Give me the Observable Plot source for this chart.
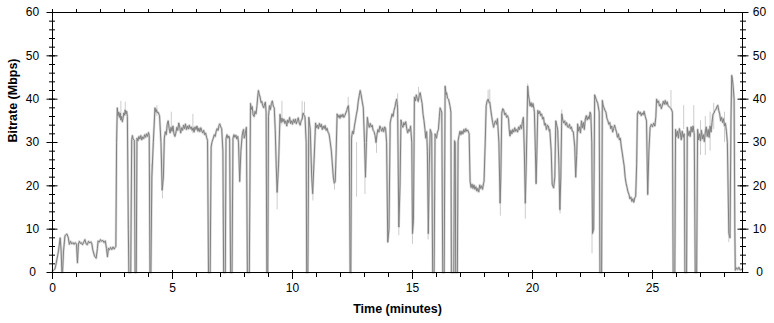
<!DOCTYPE html>
<html>
<head>
<meta charset="utf-8">
<script src="https://cdn.jsdelivr.net/npm/d3@7"></script>
<script src="https://cdn.jsdelivr.net/npm/@observablehq/plot@0.6"></script>
<style>
  html, body { margin: 0; padding: 0; background: #ffffff; }
  #chart svg { display: block; }
</style>
</head>
<body>
<div id="chart"></div>
<script>
// Smoothed bitrate trace: [time (minutes), bitrate (Mbps)]
const smoothed = [
  [0, 0.3], [0.1, 0.8], [0.15, 2], [0.25, 5], [0.32, 8], [0.36, 5], [0.39, 0], [0.42, 0.2],
  [0.46, 5], [0.52, 8.5], [0.6, 8.9], [0.66, 8], [0.7, 6.5], [0.75, 7.2], [0.8, 6.6], [0.85, 6.9],
  [0.9, 6.5], [0.95, 6.9], [1.0, 6.5], [1.04, 2.2], [1.08, 6.6], [1.12, 7.2], [1.16, 6.7],
  [1.2, 6.9], [1.25, 6.4], [1.3, 7], [1.35, 7.6], [1.4, 6.6], [1.45, 6.4], [1.5, 7.2],
  [1.55, 6.8], [1.6, 7.1], [1.64, 6.6], [1.68, 5.2], [1.75, 3.8], [1.82, 3.3], [1.87, 5.5],
  [1.9, 7.3], [1.95, 7], [2.0, 7.6], [2.05, 7.2], [2.1, 7.4], [2.15, 6.9], [2.2, 7.3],
  [2.25, 5.5], [2.29, 3.6], [2.33, 5.6], [2.37, 5.2], [2.42, 5.8], [2.47, 5.3], [2.52, 5.9],
  [2.57, 5.4], [2.61, 5.8], [2.64, 6],
  [2.67, 30], [2.7, 38], [2.73, 36.2], [2.76, 37], [2.79, 35.8], [2.82, 36.8], [2.85, 35.2],
  [2.88, 36], [2.91, 34.8], [2.94, 35.6], [2.97, 36.8], [3.0, 36.3], [3.03, 37.5], [3.06, 36.6],
  [3.09, 37.2], [3.12, 36], [3.16, 10], [3.18, 0], [3.26, 0], [3.3, 30.6], [3.33, 31.6],
  [3.36, 30.8], [3.41, 30.5], [3.44, 0], [3.49, 0],
  [3.52, 31], [3.56, 30.4], [3.6, 31.4], [3.64, 30.8], [3.68, 31.6], [3.72, 30.6], [3.76, 31.3],
  [3.8, 30.9], [3.84, 31.8], [3.88, 31.2], [3.92, 32], [3.96, 31.4], [4.0, 32.3], [4.03, 31.6],
  [4.06, 0], [4.1, 0], [4.14, 22], [4.2, 30], [4.27, 38], [4.3, 37], [4.33, 37.6], [4.37, 36.8],
  [4.4, 37], [4.46, 36.2], [4.52, 30], [4.57, 19], [4.62, 22],
  [4.66, 31], [4.7, 32.5], [4.74, 31.8], [4.78, 34.2], [4.82, 35], [4.86, 33.3], [4.9, 32.2],
  [4.94, 33.5], [4.98, 32.6], [5.02, 33.8], [5.06, 32], [5.1, 31.4], [5.14, 32.2], [5.18, 33.5],
  [5.22, 32.8], [5.26, 34.5], [5.3, 33.6], [5.34, 32.2], [5.38, 33.4], [5.42, 32.8], [5.46, 34],
  [5.5, 33.2], [5.54, 34.3], [5.58, 33], [5.62, 33.8], [5.66, 33.1], [5.7, 34], [5.74, 33.2],
  [5.78, 33.6], [5.82, 32.8], [5.86, 33.4], [5.9, 32.4], [5.94, 33.6], [5.98, 33], [6.02, 33.8],
  [6.06, 32.6], [6.1, 33.3], [6.14, 32.5], [6.18, 33.4], [6.22, 32.7], [6.26, 32.2], [6.3, 32.8],
  [6.34, 31.8], [6.38, 32.2], [6.42, 31.2], [6.46, 30.5],
  [6.5, 0], [6.57, 0], [6.61, 29], [6.65, 30.2], [6.7, 31], [6.74, 31.8], [6.78, 31.4],
  [6.82, 32.6], [6.86, 33.2], [6.9, 32.8], [6.94, 34], [6.97, 34.3], [7.01, 33.6], [7.05, 33.2],
  [7.1, 28], [7.13, 0], [7.2, 0], [7.23, 31], [7.27, 31.8], [7.31, 31], [7.35, 31.5], [7.38, 30.8],
  [7.42, 0], [7.48, 0],
  [7.52, 31], [7.56, 31.8], [7.6, 31.2], [7.64, 31.7], [7.68, 30.8], [7.72, 31.4], [7.75, 30],
  [7.8, 21], [7.85, 28], [7.9, 31.5], [7.93, 32.5], [7.96, 33], [7.99, 31], [8.02, 31.5],
  [8.05, 32.8], [8.08, 33.5], [8.12, 0], [8.2, 0],
  [8.25, 39], [8.28, 37.6], [8.32, 38.3], [8.36, 36.4], [8.4, 36], [8.44, 37.2], [8.48, 36.6],
  [8.52, 38.5], [8.55, 40.5], [8.58, 42], [8.62, 41], [8.65, 40.5], [8.69, 39.2], [8.72, 39.5],
  [8.76, 38.5], [8.8, 38], [8.84, 39], [8.87, 39.3], [8.9, 37], [8.93, 0], [8.97, 0],
  [9.0, 36], [9.04, 38.5], [9.08, 37.6], [9.12, 39], [9.16, 39.6], [9.2, 38.4], [9.24, 38],
  [9.28, 33], [9.32, 25], [9.36, 18.5], [9.42, 25],
  [9.48, 36.5], [9.52, 34.6], [9.56, 35.6], [9.6, 34.8], [9.64, 35.4], [9.68, 34.4], [9.72, 35],
  [9.76, 33.8], [9.8, 35.2], [9.84, 34.6], [9.88, 35.8], [9.92, 34.4], [9.96, 35], [10.0, 34.2],
  [10.04, 35.3], [10.08, 34.6], [10.12, 35.4], [10.16, 34.3], [10.2, 35], [10.24, 35.7],
  [10.28, 34.5], [10.32, 34], [10.36, 35], [10.4, 35.4], [10.44, 36.8], [10.48, 36.2],
  [10.52, 36], [10.57, 30], [10.59, 0], [10.64, 0], [10.68, 35.8], [10.74, 33], [10.8, 22],
  [10.84, 18.2], [10.9, 26],
  [10.96, 34.5], [11.0, 33.4], [11.04, 34], [11.08, 33.2], [11.12, 34.4], [11.16, 33.6],
  [11.2, 34.2], [11.24, 33], [11.28, 33.8], [11.32, 33.2], [11.36, 33.9], [11.4, 32.8],
  [11.44, 33.3], [11.48, 32.4], [11.52, 32], [11.55, 31], [11.62, 28], [11.7, 22], [11.74, 20.6],
  [11.78, 21], [11.82, 28],
  [11.86, 36.6], [11.9, 35.8], [11.94, 36.3], [11.98, 35.6], [12.02, 36.4], [12.06, 35.9],
  [12.1, 36.5], [12.14, 35.8], [12.18, 36.2], [12.22, 36.8], [12.26, 37.4], [12.3, 38.2],
  [12.33, 38.5], [12.36, 36], [12.4, 0], [12.43, 0],
  [12.46, 31], [12.5, 32.6], [12.54, 32], [12.58, 33.8], [12.62, 35], [12.66, 36.4], [12.7, 37.5],
  [12.74, 39.5], [12.78, 40.8], [12.82, 42], [12.86, 41], [12.9, 39.6], [12.95, 38], [13.0, 30],
  [13.04, 22], [13.08, 30],
  [13.12, 35.8], [13.16, 34.2], [13.2, 33.5], [13.24, 34.4], [13.28, 33.6], [13.32, 34],
  [13.36, 32.8], [13.4, 32.5], [13.44, 31.6], [13.48, 30], [13.52, 31.8], [13.56, 33],
  [13.6, 32.4], [13.64, 33.8], [13.68, 33.2], [13.72, 32.6], [13.76, 33.4], [13.8, 32.5],
  [13.84, 33.6], [13.88, 33.2], [13.92, 30], [13.97, 7], [14.02, 10],
  [14.07, 34.5], [14.11, 35.6], [14.15, 36.6], [14.19, 36], [14.23, 37.4], [14.27, 38.2],
  [14.31, 39.4], [14.34, 40], [14.38, 38], [14.43, 10.5], [14.48, 20],
  [14.52, 35.2], [14.56, 34], [14.6, 33.5], [14.64, 34.6], [14.68, 34], [14.72, 34.8],
  [14.76, 33.2], [14.8, 32.2], [14.84, 33], [14.88, 32.6], [14.92, 33.8], [14.97, 30],
  [15.0, 9], [15.04, 12],
  [15.08, 40.5], [15.12, 39.6], [15.16, 41], [15.2, 40], [15.24, 39.5], [15.28, 40.8],
  [15.32, 41.5], [15.36, 40.2], [15.4, 39], [15.44, 36.5], [15.48, 35], [15.52, 33], [15.55, 31],
  [15.59, 32.5], [15.62, 28], [15.66, 9], [15.7, 25], [15.74, 33], [15.8, 32], [15.84, 0],
  [15.9, 0], [15.94, 32], [16.0, 31], [16.04, 32.4], [16.08, 33], [16.12, 36], [16.15, 38],
  [16.22, 37], [16.26, 0], [16.32, 0], [16.36, 43], [16.4, 41], [16.42, 41.5], [16.46, 40.2],
  [16.5, 40], [16.56, 38.5], [16.6, 37], [16.62, 0], [16.72, 0], [16.75, 30.4], [16.78, 30],
  [16.8, 0], [16.87, 0],
  [16.9, 30.4], [16.94, 31.6], [16.98, 32.6], [17.02, 31.8], [17.06, 32.6], [17.1, 32],
  [17.14, 33], [17.18, 32.4], [17.22, 33.2], [17.26, 32.6], [17.3, 32.9], [17.36, 32],
  [17.4, 21], [17.44, 19.6], [17.48, 20.4], [17.52, 19.4], [17.56, 20.2], [17.6, 19.2],
  [17.64, 19.8], [17.68, 18.8], [17.72, 19.4], [17.76, 18.6], [17.8, 20.2], [17.84, 19.4],
  [17.88, 20], [17.92, 19.2], [17.96, 20.6], [17.98, 21], [18.03, 30],
  [18.07, 38.5], [18.11, 39.6], [18.15, 40], [18.19, 39.2], [18.22, 39.3], [18.26, 37.6],
  [18.3, 36], [18.34, 34.6], [18.38, 33.5], [18.42, 34.6], [18.46, 35], [18.5, 34.2],
  [18.54, 35.5], [18.6, 30], [18.65, 16], [18.68, 22],
  [18.72, 36.8], [18.76, 37.8], [18.8, 37.5], [18.84, 36.4], [18.88, 36.8], [18.92, 35.8],
  [18.96, 36.2], [19.0, 35.5], [19.03, 33], [19.06, 31.5], [19.1, 32.8], [19.14, 32],
  [19.18, 33], [19.22, 32.4], [19.26, 33.4], [19.3, 32.6], [19.34, 33], [19.38, 32.4],
  [19.42, 33.6], [19.46, 33], [19.5, 34], [19.54, 33.2], [19.58, 34.8], [19.62, 35.8],
  [19.66, 28], [19.7, 16], [19.74, 25],
  [19.8, 43], [19.83, 41], [19.86, 40], [19.9, 38.4], [19.94, 39.2], [19.98, 38.2], [20.02, 39],
  [20.06, 37.8], [20.08, 37], [20.12, 28], [20.15, 20.5], [20.18, 27],
  [20.22, 37.4], [20.26, 36.6], [20.3, 37.2], [20.34, 36.2], [20.38, 36.6], [20.42, 35.4],
  [20.46, 35.8], [20.5, 34], [20.54, 34.4], [20.58, 33], [20.62, 34], [20.66, 33.8], [20.7, 32.6],
  [20.72, 33], [20.78, 28], [20.82, 20.4], [20.88, 19.5], [20.93, 22], [20.97, 35], [21.01, 34],
  [21.05, 33], [21.1, 25], [21.14, 14.5], [21.18, 22],
  [21.22, 36.6], [21.26, 35.2], [21.3, 34.5], [21.34, 35], [21.38, 34], [21.42, 34.6],
  [21.46, 33.6], [21.5, 33.5], [21.54, 34.2], [21.58, 33.2], [21.62, 33.6], [21.66, 32.6],
  [21.7, 32.5], [21.76, 29], [21.8, 22], [21.84, 27],
  [21.88, 34.3], [21.92, 32.6], [21.96, 33.6], [22.0, 32.2], [22.04, 35], [22.08, 33.4],
  [22.12, 34.6], [22.16, 33], [22.2, 35.4], [22.24, 36.2], [22.28, 35.2], [22.32, 36],
  [22.36, 35.4], [22.4, 37], [22.43, 36.5], [22.47, 30], [22.5, 9], [22.55, 10],
  [22.59, 41], [22.65, 40], [22.72, 39], [22.78, 37], [22.81, 0], [22.88, 0],
  [22.91, 39.7], [22.95, 38.4], [22.98, 38], [23.02, 37.4], [23.06, 37], [23.1, 35.6],
  [23.14, 35], [23.18, 34.2], [23.22, 34.6], [23.26, 33.2], [23.3, 33.8], [23.34, 32.4],
  [23.38, 33.2], [23.42, 34], [23.46, 33.2], [23.5, 32.4], [23.54, 31.2], [23.58, 32],
  [23.62, 30.6], [23.66, 31], [23.7, 29], [23.74, 27.6],
  [23.78, 26], [23.82, 24.6], [23.86, 22], [23.9, 20.6], [23.94, 19.6], [23.98, 18.6],
  [24.02, 18], [24.06, 17], [24.1, 17.4], [24.14, 16.4], [24.18, 17], [24.22, 16.2],
  [24.26, 17.2], [24.3, 17.6], [24.34, 25],
  [24.37, 36.6], [24.41, 37.2], [24.45, 36.6], [24.49, 37], [24.53, 36.2], [24.57, 36.8],
  [24.61, 36.4], [24.65, 37.2], [24.7, 36], [24.75, 35], [24.8, 18], [24.85, 28],
  [24.9, 33.5], [24.95, 34.2], [25.0, 33.6], [25.05, 34.5], [25.1, 33.8], [25.14, 36],
  [25.17, 40], [25.21, 39.2], [25.25, 39.6], [25.29, 38.4], [25.33, 38.8], [25.37, 37.8],
  [25.41, 38.6], [25.45, 39.5], [25.49, 38.8], [25.53, 39.7], [25.57, 38.8], [25.61, 39.4],
  [25.65, 38.5], [25.7, 38.2], [25.75, 38], [25.8, 37.5], [25.83, 37], [25.86, 0], [25.93, 0],
  [25.96, 33], [26.0, 31.4], [26.04, 32.6], [26.08, 31], [26.12, 33.2], [26.16, 32.2],
  [26.2, 30.6], [26.24, 32.6], [26.28, 31.2], [26.32, 32], [26.35, 0], [26.42, 0],
  [26.45, 33.5], [26.49, 31.6], [26.53, 32.6], [26.57, 31.4], [26.61, 33.6], [26.65, 32.4],
  [26.69, 33.8], [26.74, 32], [26.78, 0], [26.84, 0],
  [26.88, 33], [26.92, 30.6], [26.96, 32], [27.0, 30.4], [27.04, 32.8], [27.08, 30.8],
  [27.12, 31.8], [27.16, 30.2], [27.2, 32.4], [27.24, 33.6], [27.28, 31.4], [27.32, 33],
  [27.36, 31.2], [27.4, 33.8], [27.44, 32.4], [27.48, 34.6], [27.52, 36.5], [27.56, 36.8],
  [27.6, 37.4], [27.64, 37.6], [27.68, 38.2], [27.72, 38.6], [27.76, 37.4], [27.8, 36.6],
  [27.84, 35], [27.88, 35.8], [27.92, 34.6], [27.96, 35.5], [28.0, 33.8], [28.04, 34.4],
  [28.08, 32.6], [28.12, 30], [28.18, 9], [28.23, 8],
  [28.27, 35], [28.3, 45.5], [28.33, 44.6], [28.36, 43], [28.4, 40], [28.43, 10], [28.45, 0.5],
  [28.5, 1.1], [28.55, 0.7], [28.6, 1.2], [28.65, 0.6], [28.75, 0.8]
];

// Raw (unsmoothed) excursions visible in light grey: [time, low, high]
const rawSpikes = [
  [2.85, 35, 39.5], [3.03, 36, 39.3], [4.12, 13.5, 25], [4.35, 36, 38.5], [4.58, 17, 22],
  [4.95, 33, 37], [5.85, 32, 36.5], [9.36, 14.5, 19], [9.56, 34, 39.5], [10.4, 35, 39.5],
  [10.5, 36, 39.3], [10.85, 16.5, 19], [11.75, 19, 22], [12.32, 37, 40.4], [12.67, 17.4, 30],
  [13.02, 18, 22], [13.5, 27.5, 31], [14.38, 38, 41.2], [14.43, 8.5, 11], [15.0, 6.5, 10],
  [15.25, 39, 42.7], [15.65, 7.5, 10], [18.15, 40, 42], [18.22, 39, 42.2], [18.66, 13, 17],
  [19.7, 12.3, 16], [19.8, 40, 43.5], [21.15, 13.5, 15], [21.22, 35, 37.5], [22.48, 4.3, 9],
  [25.77, 38, 42], [26.3, 33, 38.5], [26.72, 33, 38.5], [27.0, 27, 35], [27.2, 27, 36],
  [27.4, 28, 37], [27.55, 33, 39], [28.0, 30, 37], [28.18, 6.9, 10]
];

const xMajorTicks = [0, 5, 10, 15, 20, 25];
const xMinorTicks = [0, 1, 2, 3, 4, 5, 6, 7, 8, 9, 10, 11, 12, 13, 14, 15, 16, 17, 18, 19, 20,
  21, 22, 23, 24, 25, 26, 27, 28];
const yMajorTicks = [0, 10, 20, 30, 40, 50, 60];
const yMinorTicks = [0, 2, 4, 6, 8, 10, 12, 14, 16, 18, 20, 22, 24, 26, 28, 30, 32, 34, 36, 38,
  40, 42, 44, 46, 48, 50, 52, 54, 56, 58, 60];

const xTitle = "Time (minutes)";
const yTitle = "Bitrate (Mbps)";

const blank = () => "";

const chart = Plot.plot({
  width: 774,
  height: 323,
  marginLeft: 52,
  marginRight: 32,
  marginTop: 12,
  marginBottom: 51,
  x: {domain: [0, 28.75], axis: null},
  y: {domain: [0, 60], axis: null},
  style: {
    fontFamily: "'Liberation Sans', Arial, sans-serif",
    fontSize: "12px",
    background: "#ffffff",
    color: "#000000"
  },
  marks: [
    Plot.line(smoothed, {x: d => d[0], y: d => d[1], stroke: "#d6d6d6", strokeWidth: 2.4}),
    Plot.ruleX(rawSpikes, {x: d => d[0], y1: d => d[1], y2: d => d[2], stroke: "#cccccc", strokeWidth: 1}),
    Plot.line(smoothed, {x: d => d[0], y: d => d[1], stroke: "#808080", strokeWidth: 1}),
    Plot.frame({stroke: "#000000"}),
    // bottom ticks
    Plot.axisX({anchor: "bottom", ticks: xMinorTicks, tickSize: 5, tickFormat: blank}),
    Plot.axisX({anchor: "bottom", ticks: xMajorTicks, tickSize: 9, dy: -2, tickFormat: blank}),
    // top ticks
    Plot.axisX({anchor: "top", ticks: xMinorTicks, tickSize: 4, tickFormat: blank}),
    // left ticks (crossing the axis)
    Plot.axisY({anchor: "left", ticks: yMinorTicks, tickSize: 6, dx: 3, tickFormat: blank}),
    Plot.axisY({anchor: "left", ticks: yMajorTicks, tickSize: 11, dx: 5.5, tickFormat: blank}),
    // right ticks
    Plot.axisY({anchor: "right", ticks: yMinorTicks, tickSize: 6, dx: -3, tickFormat: blank}),
    Plot.axisY({anchor: "right", ticks: yMajorTicks, tickSize: 11, dx: -5.5, tickFormat: blank}),
    // tick labels
    Plot.text(xMajorTicks, {x: d => d, text: d => String(d), frameAnchor: "bottom", dy: 19, fontSize: 12}),
    Plot.text(yMajorTicks, {y: d => d, text: d => String(d), frameAnchor: "left", dx: -20, textAnchor: "middle", fontSize: 12}),
    Plot.text(yMajorTicks, {y: d => d, text: d => String(d), frameAnchor: "right", dx: 17, textAnchor: "middle", fontSize: 12}),
    // axis titles
    Plot.text([xTitle], {text: d => d, frameAnchor: "bottom", dy: 40, fontWeight: "bold", fontSize: 12.5}),
    Plot.text([yTitle], {text: d => d, frameAnchor: "left", dx: -40, rotate: -90, fontWeight: "bold", fontSize: 12.5})
  ]
});

document.getElementById("chart").appendChild(chart);
</script>
</body>
</html>
